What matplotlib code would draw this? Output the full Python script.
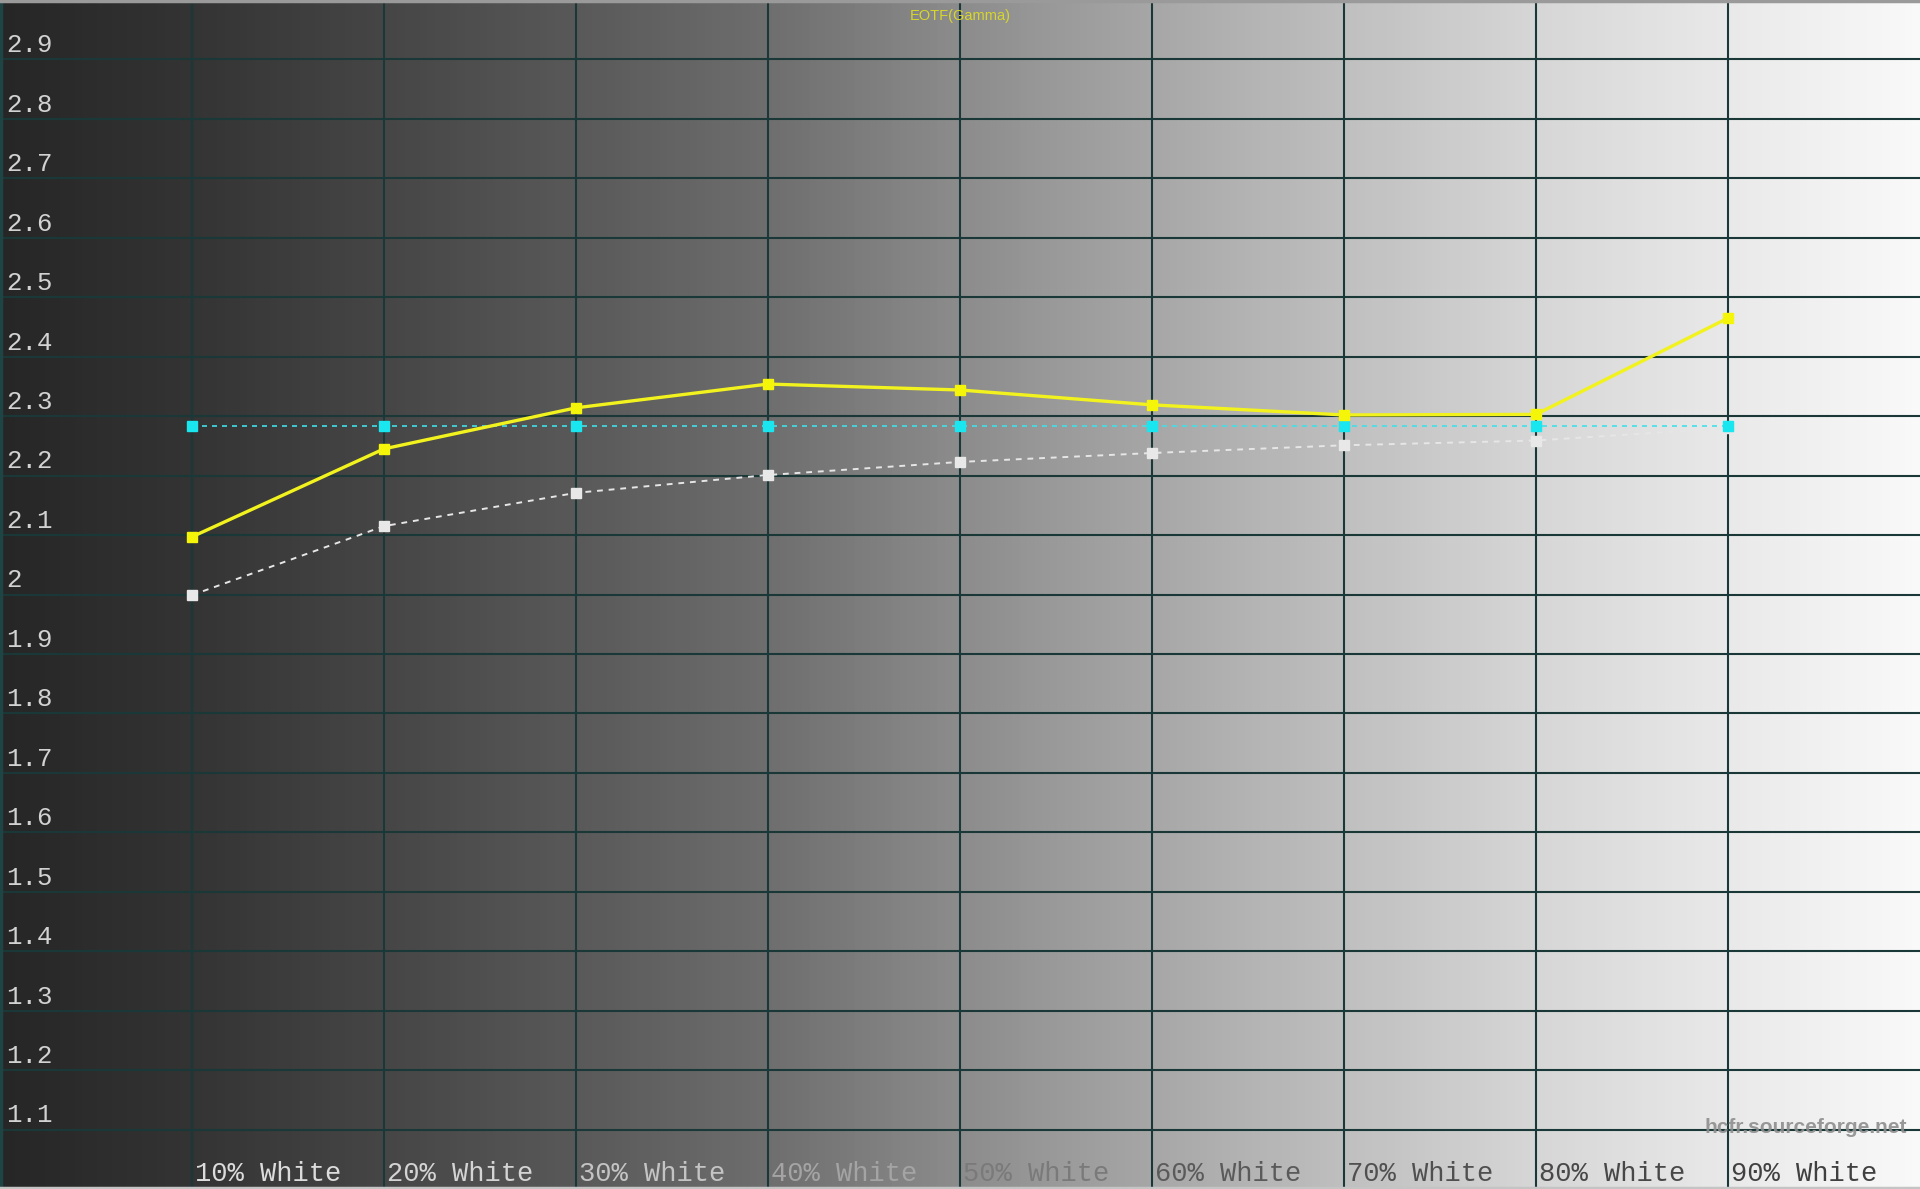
import numpy as np
import matplotlib
matplotlib.use('Agg')
import matplotlib.pyplot as plt
from matplotlib.colors import LinearSegmentedColormap

# ---- data ----
categories = ['10% White', '20% White', '30% White', '40% White', '50% White',
              '60% White', '70% White', '80% White', '90% White']
x_pos = [1, 2, 3, 4, 5, 6, 7, 8, 9]
target_gamma = [2.283, 2.283, 2.283, 2.283, 2.283, 2.283, 2.283, 2.283, 2.283]
measured_gamma = [2.097, 2.245, 2.314, 2.354, 2.344, 2.319, 2.302, 2.303, 2.465]
reference_gamma = [1.999, 2.115, 2.171, 2.201, 2.223, 2.238, 2.251, 2.259, 2.280]
y_ticks = [1.1, 1.2, 1.3, 1.4, 1.5, 1.6, 1.7, 1.8, 1.9, 2.0,
           2.1, 2.2, 2.3, 2.4, 2.5, 2.6, 2.7, 2.8, 2.9]
y_tick_labels = ['1.1', '1.2', '1.3', '1.4', '1.5', '1.6', '1.7', '1.8', '1.9', '2',
                 '2.1', '2.2', '2.3', '2.4', '2.5', '2.6', '2.7', '2.8', '2.9']
x_label_colors = ['#dcdcdc', '#d4d4d4', '#c4c4c4', '#a4a4a4', '#7a7a7a',
                  '#5a5a5a', '#505050', '#484848', '#404040']

fig = plt.figure(figsize=(19.2, 11.89), dpi=100)
ax = fig.add_axes([0, 0, 1, 1])
ax.set_xlim(0, 10)
ax.set_ylim(1, 3)
ax.axis('off')

# background gradient
cmap = LinearSegmentedColormap.from_list(
    'bg', ['#262626', '#343434', '#464646', '#595959', '#6e6e6e', '#8c8c8c',
           '#a7a7a7', '#bfbfbf', '#d6d6d6', '#e9e9e9', '#f9f9f9'])
grad = np.linspace(0, 1, 512).reshape(1, -1)
ax.imshow(grad, cmap=cmap, aspect='auto', extent=[0, 10, 1, 3], zorder=0)

grid_c = '#1b3838'
for v in y_ticks:
    ax.axhline(v, color=grid_c, lw=1.5, zorder=1)
for v in x_pos:
    ax.axvline(v, color=grid_c, lw=1.5, zorder=1)
ax.axvline(0.004, color='#1f4444', lw=2.5, zorder=1)
ax.axhline(2.998, color='#9a9a9a', lw=2.5, zorder=1)
ax.axhline(1.002, color='#c4c4c4', lw=2.5, zorder=1)

# series
ax.plot(x_pos, reference_gamma, color='#e6e6e6', lw=1.4, ls=(0, (3, 3)),
        marker='s', ms=7, mfc='#e8e8e8', mec='#e8e8e8', zorder=3)
ax.plot(x_pos, target_gamma, color='#40e0e8', lw=1.2, ls=(0, (3, 3)),
        marker='s', ms=7, mfc='#19e6ee', mec='#19e6ee', zorder=4)
ax.plot(x_pos, measured_gamma, color='#f2f21e', lw=2.4,
        marker='s', ms=7, mfc='#f5f50a', mec='#f5f50a', zorder=5)

mono = 'Liberation Mono'
for v, lab in zip(y_ticks, y_tick_labels):
    ax.text(0.03, v + 0.012, lab, family=mono, fontsize=18.5, color='#d2d2d2',
            ha='left', va='baseline', zorder=6)
for xp, lab, c in zip(x_pos, categories, x_label_colors):
    ax.text(xp + 0.016, 1.013, lab, family=mono, fontsize=19.5, color=c,
            ha='left', va='baseline', zorder=6)

ax.text(5.0, 2.973, 'EOTF(Gamma)', family='Liberation Sans', fontsize=10.5,
        color='#d6d62c', ha='center', va='center', zorder=6)
ax.text(9.93, 1.104, 'hcfr.sourceforge.net', family='Liberation Sans',
        fontweight='bold', fontsize=15, color='#8e8e8e', alpha=0.9,
        ha='right', va='center', zorder=6)

fig.savefig('out.png', dpi=100)
